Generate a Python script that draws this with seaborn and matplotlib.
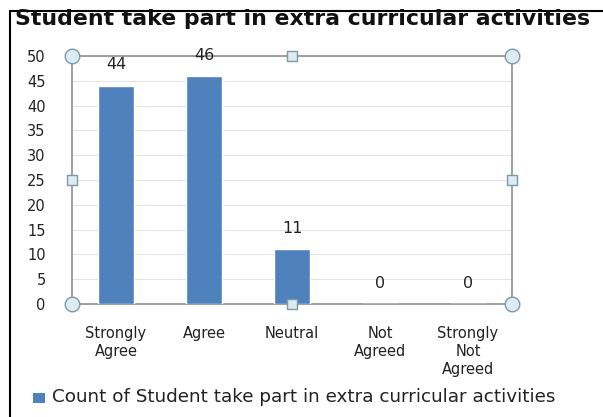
import matplotlib
matplotlib.use("Agg")
import matplotlib.pyplot as plt
import seaborn as sns
import pandas as pd
from matplotlib.patches import Rectangle

categories = ["Strongly\nAgree", "Agree", "Neutral", "Not\nAgreed", "Strongly\nNot\nAgreed"]
counts = [44, 46, 11, 0, 0]
yticks = [0, 5, 10, 15, 20, 25, 30, 35, 40, 45, 50]
title = "Student take part in extra curricular activities"
series_name = "Count of Student take part in extra curricular activities"

sns.set_theme(style="white")
plt.rcParams['font.family'] = ['DejaVu Sans']

df = pd.DataFrame({"cat": categories, "count": counts})

fig = plt.figure(figsize=(6.03, 4.17), dpi=100)
ax = fig.add_axes([72/603, 1-304/417, 440/603, 248/417])

bar_color = "#4F81BD"
sns.barplot(data=df, x="cat", y="count", color=bar_color, width=0.41,
            saturation=1, ax=ax, zorder=3)

ax.set_ylim(0, 50)
ax.set_xlim(-0.5, len(categories) - 0.5)
ax.set_yticks(yticks)
ax.set_yticklabels([str(v) for v in yticks], fontsize=10.5, color="#222222")
ax.set_xlabel("")
ax.set_ylabel("")

# category boundaries ticks
ax.set_xticks([i - 0.5 for i in range(len(categories) + 1)])
ax.set_xticklabels([])
ax.set_xticks(range(len(categories)), minor=True)
ax.set_xticklabels(categories, minor=True, fontsize=10.5, color="#222222",
                   linespacing=1.25, va="top")
ax.tick_params(axis="x", which="major", length=5, color="#888888", width=1, direction="out")
ax.tick_params(axis="x", which="minor", length=0, pad=16)
ax.tick_params(axis="y", length=5, color="#888888", width=1, direction="out", pad=14)

ax.grid(axis="y", color="#e4e4e4", linewidth=0.8, zorder=0)
for s in ["left", "bottom", "top", "right"]:
    ax.spines[s].set_color("#8f8f8f")
    ax.spines[s].set_linewidth(1.2)

# data labels
for i, v in enumerate(counts):
    ax.text(i, v + 4.2, str(v), ha="center", va="center", fontsize=11.5, color="#222222")

# selection handles
handle_kw = dict(transform=ax.transAxes, clip_on=False, zorder=5,
                 facecolor="#dcecf2", edgecolor="#7a9aa8", linewidth=1)
for (x, y) in [(0, 0), (0, 1), (1, 0), (1, 1)]:
    ax.scatter([x], [y], marker="o", s=110, **handle_kw)
for (x, y) in [(0, 0.5), (1, 0.5), (0.5, 0), (0.5, 1)]:
    ax.scatter([x], [y], marker="s", s=55, **handle_kw)

# title
fig.text(15/603, 1-19/417, title, fontsize=15.8, fontweight="bold",
         ha="left", va="center", color="#111111")

# legend
fig.patches.append(Rectangle((33/603, 1-403/417), 12/603, 10/417,
                             transform=fig.transFigure, facecolor=bar_color,
                             edgecolor="none"))
fig.text(52/603, 1-397/417, series_name, fontsize=13.2, ha="left", va="center",
         color="#222222")

# outer border
fig.patches.append(Rectangle((10/603, -0.01), 1.2, 1 - 2/417 - 9/417 + 0.01,
                             transform=fig.transFigure, facecolor="none",
                             edgecolor="black", linewidth=1.5))

fig.savefig("out.png", dpi=100)
